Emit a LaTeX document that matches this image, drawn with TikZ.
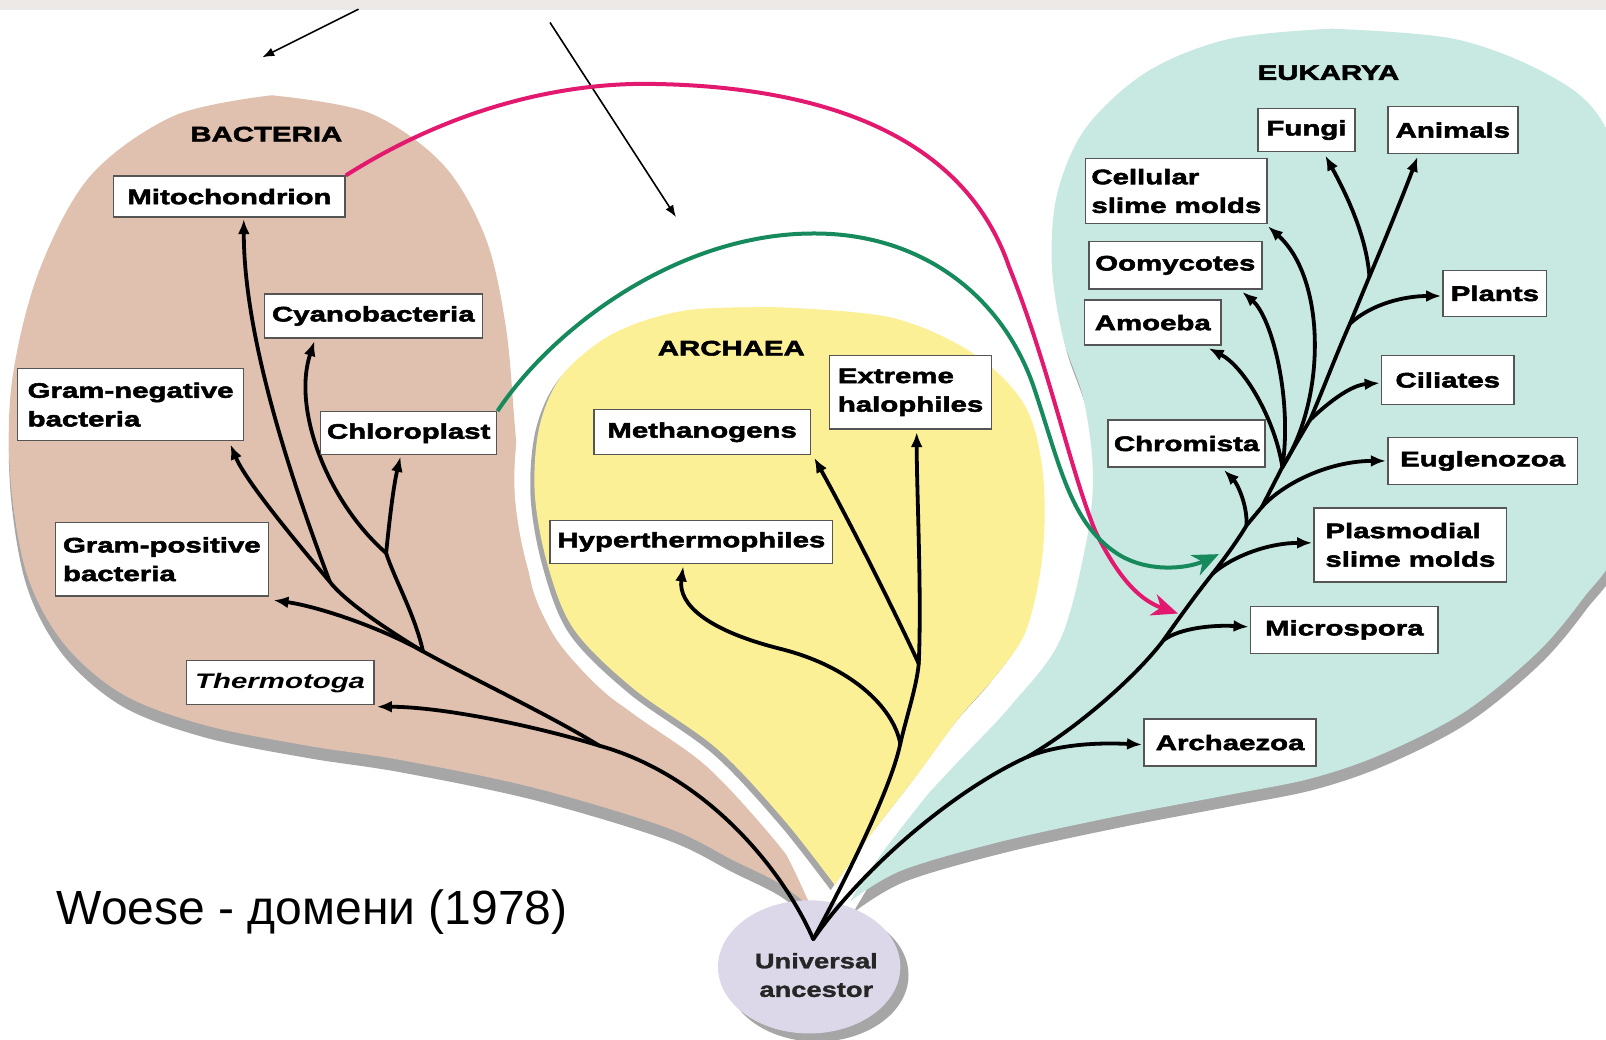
\documentclass[tikz,border=0pt]{standalone}
\usepackage{fontspec}
\setmainfont{Liberation Sans}
\newfontfamily\boxfont{Liberation Sans}[FakeStretch=1.40,BoldFeatures={FakeBold=2.6}]
\newfontfamily\ancfont{Liberation Sans}[FakeStretch=1.3,BoldFeatures={FakeBold=1.5}]
\usetikzlibrary{arrows.meta}
\pgfdeclarelayer{bg}
\pgfsetlayers{bg,main}
\definecolor{bactc}{HTML}{E0C1B0}
\definecolor{archc}{HTML}{FCF096}
\definecolor{eukc}{HTML}{C8E8E2}
\definecolor{ancc}{HTML}{DCD8EA}
\definecolor{shadc}{HTML}{A6A6A6}
\definecolor{bandc}{HTML}{ECE9E6}
\definecolor{boxline}{HTML}{555555}
\definecolor{pinkc}{HTML}{E2196F}
\definecolor{greenc}{HTML}{168A5C}
\tikzset{
  lbox/.style={draw=boxline, line width=0.7pt, fill=white, inner sep=0pt, text=black,
    font={\boxfont\bfseries\fontsize{10.5pt}{14.3pt}\selectfont}},
  domlab/.style={text=black, inner sep=0pt, font={\boxfont\bfseries\fontsize{10.5pt}{12pt}\selectfont}},
  tline/.style={line width=1.9pt, line cap=round, black},
  tarr/.style={line width=1.9pt, line cap=round, black, -{Latex[length=7.5pt,width=6pt]}},
  pinkarr/.style={line width=2pt, pinkc, -{Stealth[length=13pt,width=11pt,inset=4pt]}},
  greenarr/.style={line width=2pt, greenc, -{Stealth[length=13pt,width=11pt,inset=4pt]}},
  thinarr/.style={line width=0.8pt, black, -{Latex[length=6pt,width=4.5pt]}}
}
\def\tanpath{plot[smooth,tension=0.55] coordinates {(265,93) (360,110) (432,160) (474,232) (494,320) (503,420) (510,500) (520,575) (548,630) (595,680) (655,718) (716,758) (760,820) (792,886)} -- plot[smooth,tension=0.55] coordinates {(792,886) (760,862) (716,840) (651,808) (521,769) (391,742) (300,728) (200,708) (120,678) (62,628) (26,560) (10,465) (12,370) (38,265) (88,172) (170,113) (265,93)} -- cycle}
\def\archpath{plot[smooth,tension=0.55] coordinates {(760,300) (870,310) (950,345) (1000,395) (1018,460) (1018,540) (1002,615) (972,660) (937,700) (895,757) (850,815) (815,864)} -- plot[smooth,tension=0.55] coordinates {(815,864) (765,800) (700,731) (618,672) (560,614) (534,549) (522,480) (527,415) (550,365) (600,325) (670,303) (760,300)} -- cycle}
\def\eukpath{plot[smooth,tension=0.55] coordinates {(1300,28) (1420,38) (1510,72) (1562,115) (1590,200) (1595,400) (1580,530) (1545,585) (1500,638) (1430,695) (1350,736) (1280,760) (1200,776) (1090,797) (976,822) (880,850) (830,880)} -- plot[smooth,tension=0.55] coordinates {(830,880) (862,828) (900,782) (937,742) (986,690) (1035,625) (1061,527) (1067,460) (1058,390) (1038,330) (1027,260) (1032,190) (1060,125) (1120,70) (1200,38) (1300,28)} -- cycle}
\begin{document}
\begin{tikzpicture}[x=0.5121pt,y=-0.5121pt]
\useasboundingbox (0,0) rectangle (1568,1015);

% ---- boxes (main layer) ----
\node[lbox, minimum width=115.7pt, minimum height=20.5pt] (mito) at (224,192) {Mitochondrion};
\node[lbox, minimum width=109.1pt, minimum height=22pt] (cyano) at (364.5,308.5) {Cyanobacteria};
\node[lbox, minimum width=113.2pt, minimum height=35.8pt, align=left] (gneg) at (127.5,395) {Gram-negative\\bacteria};
\node[lbox, minimum width=88.1pt, minimum height=21.5pt] (chloro) at (399,423) {Chloroplast};
\node[lbox, minimum width=106.5pt, minimum height=36.9pt, align=left] (gpos) at (158,546) {Gram-positive\\bacteria};
\node[lbox, minimum width=93.7pt, minimum height=22pt] (thermo) at (273.5,666.5) {\itshape Thermotoga};
\node[lbox, minimum width=108.1pt, minimum height=22.5pt] (meth) at (685.5,422) {Methanogens};
\node[lbox, minimum width=80.9pt, minimum height=36.9pt, align=left] (halo) at (889,383) {Extreme\\halophiles};
\node[lbox, minimum width=141.3pt, minimum height=21.5pt] (hyper) at (675,529) {Hyperthermophiles};
\node[lbox, minimum width=48.6pt, minimum height=21.5pt] (fungi) at (1275.5,127) {Fungi};
\node[lbox, minimum width=65pt, minimum height=23.6pt] (animals) at (1418.5,127) {Animals};
\node[lbox, minimum width=90.6pt, minimum height=32.3pt, align=left] (cslime) at (1148.5,186.5) {Cellular\\slime molds};
\node[lbox, minimum width=86.5pt, minimum height=23.6pt] (oomy) at (1147.5,259) {Oomycotes};
\node[lbox, minimum width=68.1pt, minimum height=22.5pt] (amoeba) at (1125.5,315) {Amoeba};
\node[lbox, minimum width=78.4pt, minimum height=23.6pt] (chrom) at (1158.5,433) {Chromista};
\node[lbox, minimum width=51.7pt, minimum height=23pt] (plants) at (1459.5,286.5) {Plants};
\node[lbox, minimum width=66.1pt, minimum height=24.6pt] (cil) at (1413.5,371) {Ciliates};
\node[lbox, minimum width=94.7pt, minimum height=23.6pt] (eugl) at (1447.5,450) {Euglenozoa};
\node[lbox, minimum width=96.3pt, minimum height=36.9pt, align=left] (plasm) at (1377,532) {Plasmodial\\slime molds};
\node[lbox, minimum width=93.7pt, minimum height=23.6pt] (micro) at (1312.5,615) {Microspora};
\node[lbox, minimum width=86pt, minimum height=23.6pt] (archz) at (1201,725) {Archaezoa};

\node[domlab] (lbact) at (260,131) {BACTERIA};
\node[domlab] (larch) at (714,340) {ARCHAEA};
\node[domlab] (leuk) at (1297,71) {EUKARYA};

\node[text=black!85, inner sep=0pt, align=center, font={\ancfont\bfseries\fontsize{10.5pt}{14.3pt}\selectfont}] (anc) at (797,952) {Universal\\ancestor};
\node[anchor=base west, inner sep=0pt, text=black, font={\fontsize{24pt}{28pt}\selectfont}] (cap) at (55,903) {Woese - домени (1978)};

% ---- coordinates ----
\coordinate (root) at (794,917);
\coordinate (bT) at (585,728);
\coordinate (bF) at (413,636);
\coordinate (bG) at (322,568);
\coordinate (bC) at (377,540);
\coordinate (aA) at (879,726);
\coordinate (aB) at (897,648);
\coordinate (e1) at (1003,739);
\coordinate (e2) at (1136,625);
\coordinate (e3) at (1184,560);
\coordinate (e4) at (1217,513);
\coordinate (e5) at (1232,495);
\coordinate (e6) at (1252,456);
\coordinate (e7) at (1279,410);
\coordinate (e8) at (1318,316);
\coordinate (e9) at (1337,270);
\coordinate (tMito) at (238,214);
\coordinate (tGneg) at (225,434);
\coordinate (tCyano) at (307,333);
\coordinate (tChloro) at (391,446);
\coordinate (tGpos) at (267,586);
\coordinate (tTherm) at (368,690);
\coordinate (tHyper) at (667,553);
\coordinate (tMeth) at (795,447);
\coordinate (tHalo) at (895,422);
\coordinate (tFungi) at (1294,152);
\coordinate (tAnim) at (1384,153);
\coordinate (tCslime) at (1238,221);
\coordinate (tOomy) at (1213,285);
\coordinate (tAmoeba) at (1180,340);
\coordinate (tChrom) at (1195,459);
\coordinate (tPlants) at (1407,289);
\coordinate (tCil) at (1347,374);
\coordinate (tEugl) at (1353,450);
\coordinate (tPlasm) at (1281,530);
\coordinate (tMicro) at (1219,612);
\coordinate (tArchz) at (1115,727);
\coordinate (pinkEnd) at (1150,599);
\coordinate (greenEnd) at (1190,541);
\coordinate (a1s) at (350,9);
\coordinate (a1e) at (256,56);
\coordinate (a2s) at (537,22);
\coordinate (a2e) at (660,212);

\begin{pgfonlayer}{bg}
\fill[white] (0,0) rectangle (1568,1015);
\fill[bandc] (0,0) rectangle (1568,10);
% blobs
\fill[shadc, shift={(0,12)}] \tanpath;
\fill[bactc] \tanpath;
\fill[shadc, shift={(3,11)}] \eukpath;
\fill[eukc] \eukpath;
\draw[white, line width=20pt] \archpath;
\fill[shadc, shift={(-4,5)}] \archpath;
\fill[archc] \archpath;
% ancestor ellipse
\fill[shadc] (798,952) ellipse [x radius=89, y radius=65];
\fill[ancc] (790,944) ellipse [x radius=89, y radius=65];

% thin arrows at top
\draw[thinarr] (a1s) -- (a1e);
\draw[thinarr] (a2s) -- (a2e);

% Bacteria tree
\draw[tline] (root) .. controls (765,850) and (690,757) .. (bT);
\draw[tline] (bT) .. controls (540,700) and (460,662) .. (bF);
\draw[tarr] (bT) .. controls (520,708) and (430,690) .. (tTherm);
\draw[tarr] (bF) .. controls (370,612) and (310,592) .. (tGpos);
\draw[tline] (bF) .. controls (370,610) and (335,585) .. (bG);
\draw[tline] (bF) .. controls (405,600) and (385,565) .. (bC);
\draw[tarr] (bG) .. controls (285,470) and (238,330) .. (tMito);
\draw[tarr] (bG) .. controls (290,530) and (240,470) .. (tGneg);
\draw[tarr] (bC) .. controls (320,490) and (285,400) .. (tCyano);
\draw[tarr] (bC) .. controls (380,510) and (384,475) .. (tChloro);

% Archaea tree
\draw[tline] (root) .. controls (825,860) and (870,770) .. (aA);
\draw[tline] (aA) .. controls (885,700) and (895,670) .. (aB);
\draw[tarr] (aA) .. controls (872,690) and (830,650) .. (760,633) .. controls (690,615) and (662,590) .. (tHyper);
\draw[tarr] (aB) .. controls (875,600) and (830,510) .. (tMeth);
\draw[tarr] (aB) .. controls (900,580) and (895,480) .. (tHalo);

% Eukarya tree
\draw[tline] (root) .. controls (840,850) and (930,772) .. (e1);
\draw[tarr] (e1) .. controls (1035,726) and (1075,725) .. (tArchz);
\draw[tline] (e1) .. controls (1050,712) and (1108,662) .. (e2);
\draw[tarr] (e2) .. controls (1152,613) and (1185,610) .. (tMicro);
\draw[tline] (e2) .. controls (1150,605) and (1168,580) .. (e3);
\draw[tarr] (e3) .. controls (1205,542) and (1240,530) .. (tPlasm);
\draw[tline] (e3) .. controls (1198,542) and (1210,525) .. (e4);
\draw[tarr] (e4) .. controls (1218,493) and (1208,472) .. (tChrom);
\draw[tline] (e4) -- (e5);
\draw[tarr] (e5) .. controls (1255,470) and (1300,450) .. (tEugl);
\draw[tline] (e5) -- (e6);
\draw[tarr] (e6) .. controls (1245,410) and (1215,358) .. (tAmoeba);
\draw[tarr] (e6) .. controls (1262,390) and (1242,310) .. (tOomy);
\draw[tarr] (e6) .. controls (1295,390) and (1295,272) .. (tCslime);
\draw[tline] (e6) -- (e7);
\draw[tarr] (e7) .. controls (1300,390) and (1320,376) .. (tCil);
\draw[tline] (e7) .. controls (1292,380) and (1305,345) .. (e8);
\draw[tarr] (e8) .. controls (1340,296) and (1372,289) .. (tPlants);
\draw[tline] (e8) -- (e9);
\draw[tarr] (e9) .. controls (1352,235) and (1372,185) .. (tAnim);
\draw[tarr] (e9) .. controls (1334,228) and (1312,185) .. (tFungi);

% endosymbiosis arrows
\draw[pinkarr] (mito.north east) .. controls (450,100) and (560,80) .. (640,82)
  .. controls (800,85) and (940,130) .. (985,260)
  .. controls (1025,360) and (1045,460) .. (1070,520)
  .. controls (1090,560) and (1110,585) .. (pinkEnd);
\draw[greenarr] (chloro.north east) .. controls (540,320) and (660,230) .. (790,228)
  .. controls (900,226) and (980,290) .. (1010,380)
  .. controls (1035,455) and (1045,510) .. (1090,540)
  .. controls (1120,560) and (1160,555) .. (greenEnd);
\end{pgfonlayer}
\end{tikzpicture}
\end{document}
